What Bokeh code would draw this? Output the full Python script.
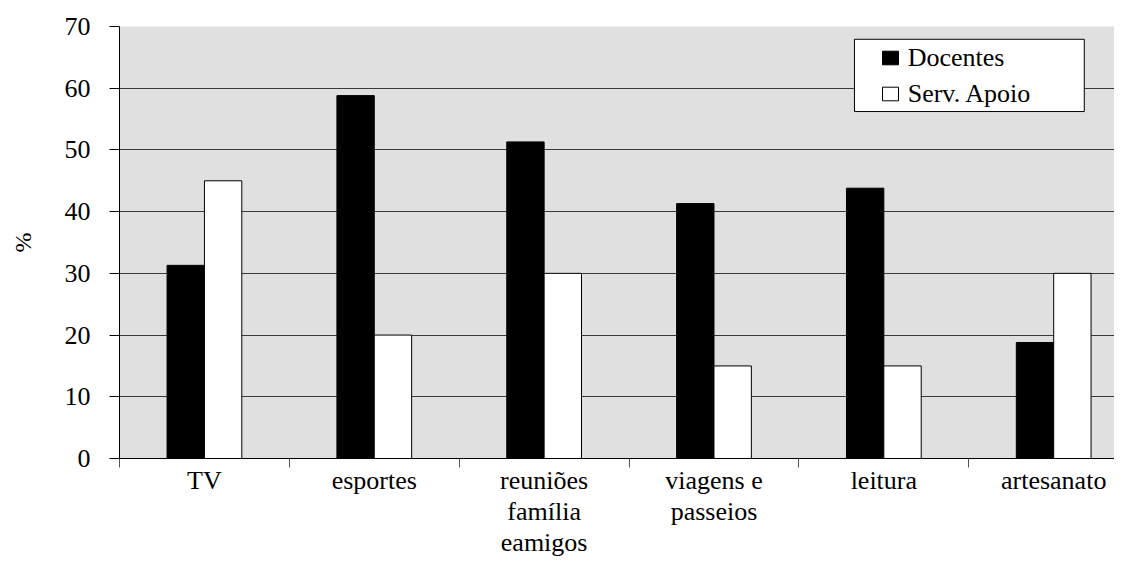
import numpy as np
from bokeh.plotting import figure
from bokeh.models import (Range1d, FixedTicker, ColumnDataSource, Legend, LegendItem,
                          BoxAnnotation)
from bokeh.transform import dodge
from bokeh.embed import file_html
from bokeh.resources import INLINE

categories = ["TV", "esportes", "reuniões\nfamília\neamigos", "viagens e\npasseios",
              "leitura", "artesanato"]
docentes = [31.3, 58.8, 51.3, 41.3, 43.8, 18.8]
serv_apoio = [45, 20, 30, 15, 15, 30]
y_ticks = [0, 10, 20, 30, 40, 50, 60, 70]

FONT = "Liberation Serif"

centers = (np.arange(len(categories)) + 0.5).tolist()
src = ColumnDataSource(dict(x=centers, cat=categories, doc=docentes, serv=serv_apoio))

p = figure(width=1114, height=565, output_backend="svg", toolbar_location=None,
           x_range=Range1d(0, 5.858), y_range=Range1d(0, 70),
           min_border_left=119, min_border_right=0, min_border_top=26,
           min_border_bottom=107)
p.background_fill_color = "#e0e0e0"
p.border_fill_color = "white"
p.outline_line_color = None

r1 = p.vbar(x=dodge("x", -0.11), top="doc", width=0.22, source=src,
            fill_color="black", line_color="black", line_width=1)
r2 = p.vbar(x=dodge("x", 0.11), top="serv", width=0.22, source=src,
            fill_color="white", line_color="black", line_width=1)

# y axis
yt = FixedTicker(ticks=y_ticks)
p.yaxis.ticker = yt
p.ygrid.ticker = yt
p.ygrid.grid_line_color = "#3a3a3a"
p.ygrid.grid_line_width = 1
p.xgrid.grid_line_color = None
p.yaxis.axis_line_color = "black"
p.yaxis.major_tick_line_color = "black"
p.yaxis.major_tick_out = 10
p.yaxis.major_tick_in = 0
p.yaxis.minor_tick_line_color = None
p.yaxis.major_label_text_font = FONT
p.yaxis.major_label_text_font_size = "26px"
p.yaxis.major_label_text_color = "black"
p.yaxis.major_label_standoff = 19
p.yaxis.axis_label = "%"
p.yaxis.axis_label_text_font = FONT
p.yaxis.axis_label_text_font_size = "24px"
p.yaxis.axis_label_text_font_style = "normal"
p.yaxis.axis_label_text_color = "black"
p.yaxis.axis_label_standoff = 26

# x axis: labels at category centres, ticks at boundaries
p.xaxis.ticker = FixedTicker(ticks=centers,
                             minor_ticks=list(range(len(categories))))
p.xaxis.major_label_overrides = {c: lab for c, lab in zip(centers, categories)}
p.xaxis.major_tick_line_color = None
p.xaxis.major_tick_out = 0
p.xaxis.major_tick_in = 0
p.xaxis.minor_tick_line_color = "#555555"
p.xaxis.minor_tick_out = 9
p.xaxis.minor_tick_in = 0
p.xaxis.axis_line_color = "black"
p.xaxis.major_label_text_font = FONT
p.xaxis.major_label_text_font_size = "26px"
p.xaxis.major_label_text_color = "black"
p.xaxis.major_label_text_line_height = 1.08
p.xaxis.major_label_standoff = -2

# legend box
box = BoxAnnotation(left=4.327, right=5.680, top=67.93, bottom=56.22,
                    fill_color="white", fill_alpha=1.0, line_color="black",
                    line_width=1, line_alpha=1.0)
p.add_layout(box)

legend = Legend(items=[LegendItem(label="Docentes", renderers=[r1]),
                       LegendItem(label="Serv. Apoio", renderers=[r2])],
                location=(760.7, 349.5))
legend.background_fill_alpha = 0
legend.border_line_color = None
legend.padding = 0
legend.margin = 0
legend.spacing = 6
legend.glyph_width = 20
legend.glyph_height = 17
legend.label_height = 30
legend.label_standoff = 8
legend.label_text_font = FONT
legend.label_text_font_size = "26px"
legend.label_text_color = "black"
p.add_layout(legend)

open("out.html", "w").write(file_html(p, INLINE))
